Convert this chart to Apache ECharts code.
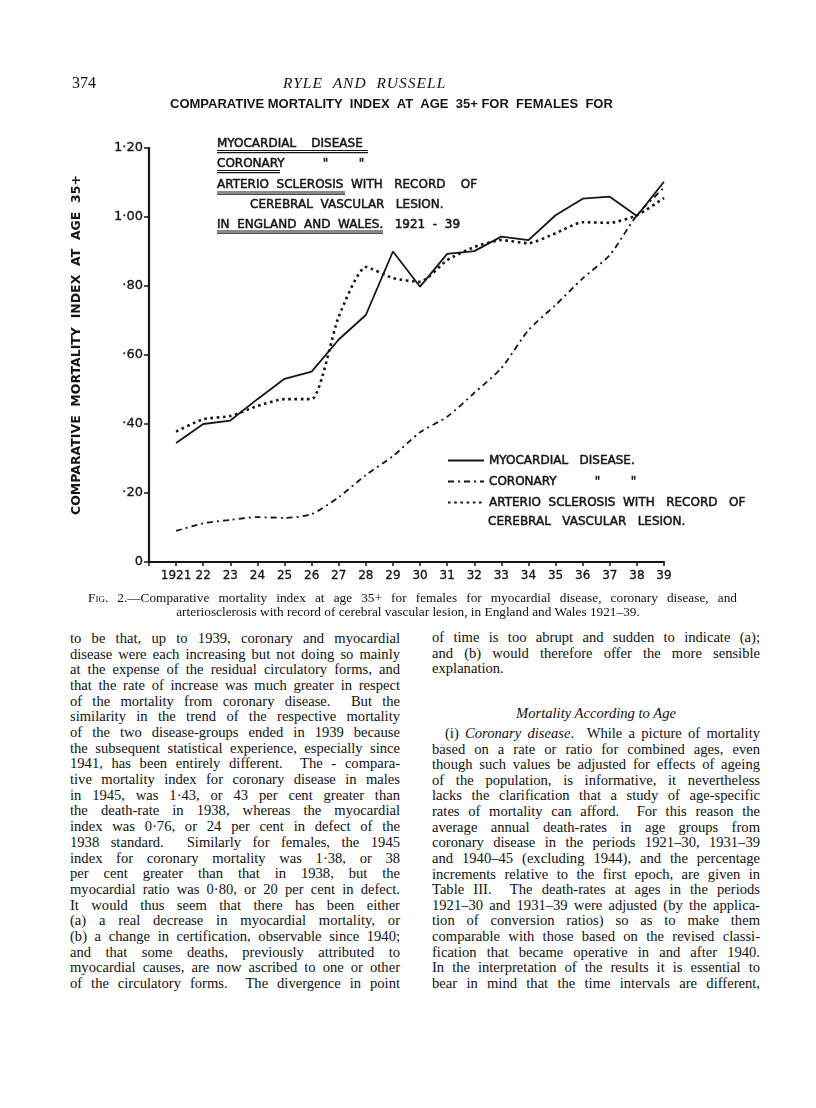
<!DOCTYPE html>
<html>
<head>
<meta charset="utf-8">
<script src="https://cdn.jsdelivr.net/npm/echarts@6/dist/echarts.min.js"></script>
<style>
  html, body { margin: 0; padding: 0; background: #fff; }
  #page { position: relative; width: 816px; height: 1108px; overflow: hidden; background: #fff; color: #111; }
  #chart { position: absolute; left: 0; top: 0; width: 816px; height: 620px; }
  .t { position: absolute; white-space: nowrap; font-family: "Liberation Serif", "Times New Roman", serif; color: #111; }
  .body { font-size: 14.6px; line-height: 16px; height: 16px; }
</style>
</head>
<body>
<div id="page">
  <div id="chart"></div>
</div>
<script>
// ---------- data ----------
const years = [1921,1922,1923,1924,1925,1926,1927,1928,1929,1930,1931,1932,1933,1934,1935,1936,1937,1938,1939];
const myocardial = [0.345,0.400,0.410,0.472,0.531,0.552,0.645,0.716,0.900,0.798,0.893,0.901,0.943,0.933,1.005,1.053,1.059,1.003,1.102];
const coronary   = [0.090,0.112,0.122,0.130,0.128,0.139,0.188,0.252,0.307,0.376,0.421,0.490,0.562,0.672,0.745,0.822,0.890,1.005,1.085];
const arterio    = [0.378,0.414,0.423,0.452,0.472,0.472,0.711,0.855,0.823,0.812,0.875,0.913,0.933,0.924,0.953,0.985,0.983,1.005,1.055];
const yTickLabels = ['0','·20','·40','·60','·80','1·00','1·20'];
const seriesNames = ['MYOCARDIAL   DISEASE.', 'CORONARY          "        "', 'ARTERIO  SCLEROSIS  WITH   RECORD   OF'];
const legendCont = 'CEREBRAL   VASCULAR   LESION.';
const yAxisTitle = 'COMPARATIVE  MORTALITY  INDEX  AT  AGE  35+';
const chartTitle = 'COMPARATIVE MORTALITY  INDEX  AT  AGE  35+ FOR  FEMALES  FOR';
const blockLines = ['MYOCARDIAL    DISEASE', 'CORONARY          "        "', 'ARTERIO  SCLEROSIS  WITH   RECORD    OF', 'CEREBRAL  VASCULAR   LESION.', 'IN  ENGLAND  AND  WALES.   1921  -  39'];

const leftCol = [
"to be that, up to 1939, coronary and myocardial",
"disease were each increasing but not doing so mainly",
"at the expense of the residual circulatory forms, and",
"that the rate of increase was much greater in respect",
"of the mortality from coronary disease.  But the",
"similarity in the trend of the respective mortality",
"of the two disease-groups ended in 1939 because",
"the subsequent statistical experience, especially since",
"1941, has been entirely different.  The - compara-",
"tive mortality index for coronary disease in males",
"in 1945, was 1·43, or 43 per cent greater than",
"the death-rate in 1938, whereas the myocardial",
"index was 0·76, or 24 per cent in defect of the",
"1938 standard.  Similarly for females, the 1945",
"index for coronary mortality was 1·38, or 38",
"per cent greater than that in 1938, but the",
"myocardial ratio was 0·80, or 20 per cent in defect.",
"It would thus seem that there has been either",
"(a) a real decrease in myocardial mortality, or",
"(b) a change in certification, observable since 1940;",
"and that some deaths, previously attributed to",
"myocardial causes, are now ascribed to one or other",
"of the circulatory forms.  The divergence in point"
];
const rightColA = [
"of time is too abrupt and sudden to indicate (a);",
"and (b) would therefore offer the more sensible",
"explanation."
];
const rightHeading = "Mortality According to Age";
const rightColB = [
"(i) <i>Coronary disease</i>.  While a picture of mortality",
"based on a rate or ratio for combined ages, even",
"though such values be adjusted for effects of ageing",
"of the population, is informative, it nevertheless",
"lacks the clarification that a study of age-specific",
"rates of mortality can afford.  For this reason the",
"average annual death-rates in age groups from",
"coronary disease in the periods 1921–30, 1931–39",
"and 1940–45 (excluding 1944), and the percentage",
"increments relative to the first epoch, are given in",
"Table III.  The death-rates at ages in the periods",
"1921–30 and 1931–39 were adjusted (by the applica-",
"tion of conversion ratios) so as to make them",
"comparable with those based on the revised classi-",
"fication that became operative in and after 1940.",
"In the interpretation of the results it is essential to",
"bear in mind that the time intervals are different,"
];
const captionLines = [
'<span style="font-variant:small-caps">Fig.</span> 2.—Comparative mortality index at age 35+ for females for myocardial disease, coronary disease, and',
'arteriosclerosis with record of cerebral vascular lesion, in England and Wales 1921–39.'
];

// ---------- page text ----------
const page = document.getElementById('page');
function addLine(html, left, centerY, width, cls, opts) {
  opts = opts || {};
  const d = document.createElement('div');
  d.className = 't ' + (cls || '');
  d.innerHTML = html.replace(/  /g, ' &nbsp;');
  d.style.left = left + 'px';
  d.style.top = (centerY - 8) + 'px';
  if (opts.style) Object.assign(d.style, opts.style);
  page.appendChild(d);
  if (width && opts.justify) {
    const natural = d.getBoundingClientRect().width;
    const spaces = (d.textContent.match(/[ \u00a0]/g) || []).length;
    if (natural < width && spaces > 0) {
      d.style.wordSpacing = ((width - natural) / spaces) + 'px';
    } else if (natural > width) {
      const chars = d.textContent.length;
      d.style.letterSpacing = ((width - natural) / chars) + 'px';
    }
  }
  return d;
}
// header
addLine('374', 72, 82, 0, '', {style: {fontSize: '16px'}});
addLine('<i>RYLE &nbsp;AND &nbsp;RUSSELL</i>', 283, 82, 0, '', {style: {fontSize: '15.5px', letterSpacing: '1px'}});
// caption
addLine(captionLines[0], 88, 598, 649, '', {justify: true, style: {fontSize: '13.3px'}});
const c2 = addLine(captionLines[1], 0, 612, 0, '', {style: {fontSize: '13.3px'}});
c2.style.left = (408 - c2.getBoundingClientRect().width / 2) + 'px';
// left column
leftCol.forEach((s, i) => addLine(s, 70, 638 + i * 15.68, 330, 'body', {justify: true}));
// right column
rightColA.forEach((s, i) => addLine(s, 432, 637 + i * 15.7, 328, 'body', {justify: i < 2}));
const hd = addLine('<i>' + rightHeading + '</i>', 0, 712.7, 0, 'body');
hd.style.left = (596 - hd.getBoundingClientRect().width / 2) + 'px';
rightColB.forEach((s, i) => addLine(s, i === 0 ? 445 : 432, 733 + i * 15.62, i === 0 ? 315 : 328, 'body', {justify: true}));

// ---------- chart ----------
const chart = echarts.init(document.getElementById('chart'), null, {renderer: 'canvas'});
const LBL = '"DejaVu Sans", sans-serif';
const ink = '#151515';
function pairs(vals) { return years.map((y, i) => [y, vals[i]]); }

const blockY = [143.5, 163.5, 185, 205, 225];
const blockX = [217, 217, 217, 250, 217];
const graphics = [];
graphics.push({type: 'text', x: 170, y: 104, silent: true,
  style: {text: chartTitle, font: 'bold 13px "Liberation Sans", Arial, sans-serif', fill: ink, verticalAlign: 'middle'}});
// y-axis title (rotated)
graphics.push({type: 'text', x: 77, y: 345, rotation: Math.PI / 2, silent: true,
  style: {text: yAxisTitle, font: 'bold 12.5px ' + LBL, fill: ink, align: 'center', verticalAlign: 'middle'}});
blockLines.forEach((s, i) => graphics.push({type: 'text', x: blockX[i], y: blockY[i], silent: true,
  style: {text: s, font: '12px ' + LBL, fill: ink, stroke: ink, lineWidth: 0.5, verticalAlign: 'middle'}}));
// underlines of the title block
const ul = [[217, 368, 150.5], [217, 280, 170.5], [217, 345, 192], [217, 383, 231]];
ul.forEach(u => {
  graphics.push({type: 'line', silent: true, shape: {x1: u[0], y1: u[2], x2: u[1], y2: u[2]}, style: {stroke: ink, lineWidth: 1.2}});
  graphics.push({type: 'line', silent: true, shape: {x1: u[0], y1: u[2] + 2.2, x2: u[1], y2: u[2] + 2.2}, style: {stroke: ink, lineWidth: 1.2}});
});
graphics.push({type: 'text', x: 488, y: 522, silent: true,
  style: {text: legendCont, font: '12px ' + LBL, fill: ink, stroke: ink, lineWidth: 0.5, verticalAlign: 'middle'}});

const boldText = {textBorderColor: ink, textBorderWidth: 0.5};
const semiBold = {textBorderColor: ink, textBorderWidth: 0.3};

chart.setOption({
  animation: false,
  backgroundColor: 'transparent',
  grid: {left: 149, right: 152, top: 148, bottom: 58, containLabel: false},
  legend: {
    orient: 'vertical', left: 447, top: 450, padding: 0, itemWidth: 36, itemHeight: 10, itemGap: 0,
    selectedMode: false,
    itemStyle: {opacity: 0},
    textStyle: Object.assign({fontFamily: LBL, fontSize: 12, color: ink, lineHeight: 21}, boldText),
    data: seriesNames
  },
  xAxis: {
    type: 'value', min: 1920, max: 1939, interval: 1,
    axisLine: {show: true, lineStyle: {color: ink, width: 2.2}},
    axisTick: {show: true, length: 4, lineStyle: {color: ink, width: 1.5}},
    splitLine: {show: false},
    axisLabel: Object.assign({
      margin: 8, color: ink, fontFamily: LBL, fontSize: 12,
      formatter: v => v === 1920 ? '' : (v === years[0] ? String(v) : String(v).slice(2))
    }, semiBold)
  },
  yAxis: {
    type: 'value', min: 0, max: 1.2, interval: 0.2,
    axisLine: {show: true, lineStyle: {color: ink, width: 2.2}},
    axisTick: {show: true, length: 5, lineStyle: {color: ink, width: 1.5}},
    splitLine: {show: false},
    axisLabel: Object.assign({
      margin: 6, color: ink, fontFamily: LBL, fontSize: 13,
      formatter: v => yTickLabels[Math.round(v / 0.2)]
    }, semiBold)
  },
  graphic: graphics,
  series: [
    {name: seriesNames[0], type: 'line', data: pairs(myocardial), symbol: 'none', silent: true,
     itemStyle: {color: ink}, lineStyle: {color: ink, width: 1.8, type: 'solid'}},
    {name: seriesNames[1], type: 'line', data: pairs(coronary), symbol: 'none', silent: true, smooth: 0.25,
     itemStyle: {color: ink}, lineStyle: {color: ink, width: 1.8, type: [6, 4, 2, 4]}},
    {name: seriesNames[2], type: 'line', data: pairs(arterio), symbol: 'none', silent: true, smooth: 0.2,
     itemStyle: {color: ink}, lineStyle: {color: ink, width: 2.6, type: [2.6, 3.6]}}
  ]
});
</script>
</body>
</html>
